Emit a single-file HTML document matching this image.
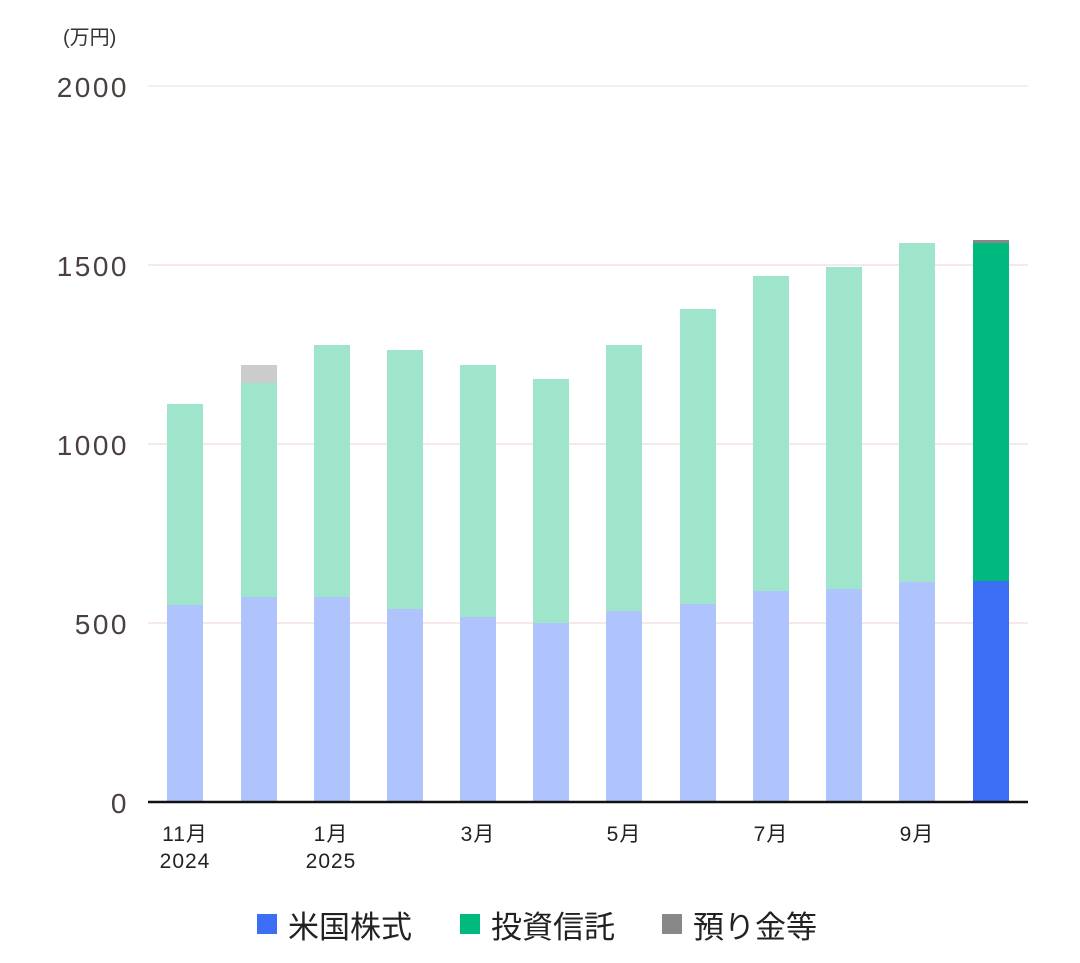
<!DOCTYPE html>
<html><head><meta charset="utf-8"><style>
html,body{margin:0;padding:0;background:#fff;}
svg{display:block;font-family:"Liberation Sans","Noto Sans CJK JP",sans-serif;}
</style></head><body>
<svg width="1080" height="963" viewBox="0 0 1080 963">
<text x="63" y="44" font-size="20" fill="#333">(万円)</text>
<g stroke="#f0e0e2" stroke-width="1.5">
<line x1="148" x2="1028" y1="86" y2="86" stroke="#ececec"/>
<line x1="148" x2="1028" y1="265" y2="265"/>
<line x1="148" x2="1028" y1="444" y2="444"/>
<line x1="148" x2="1028" y1="623" y2="623"/>
</g>
<g font-size="28" fill="#4a4040" text-anchor="end" letter-spacing="2.5">
<text x="129" y="97">2000</text>
<text x="129" y="276">1500</text>
<text x="129" y="455">1000</text>
<text x="129" y="634">500</text>
<text x="129" y="813">0</text>
</g>
<g>
<rect x="167" y="404" width="36" height="201" fill="#9ee5cb"/><rect x="167" y="605" width="36" height="197" fill="#afc4fc"/>
<rect x="241" y="365" width="36" height="18" fill="#cccccc"/><rect x="241" y="383" width="36" height="214" fill="#9ee5cb"/><rect x="241" y="597" width="36" height="205" fill="#afc4fc"/>
<rect x="314" y="345" width="36" height="252" fill="#9ee5cb"/><rect x="314" y="597" width="36" height="205" fill="#afc4fc"/>
<rect x="387" y="350" width="36" height="259" fill="#9ee5cb"/><rect x="387" y="609" width="36" height="193" fill="#afc4fc"/>
<rect x="460" y="365" width="36" height="252" fill="#9ee5cb"/><rect x="460" y="617" width="36" height="185" fill="#afc4fc"/>
<rect x="533" y="379" width="36" height="244" fill="#9ee5cb"/><rect x="533" y="623" width="36" height="179" fill="#afc4fc"/>
<rect x="606" y="345" width="36" height="266" fill="#9ee5cb"/><rect x="606" y="611" width="36" height="191" fill="#afc4fc"/>
<rect x="680" y="309" width="36" height="295" fill="#9ee5cb"/><rect x="680" y="604" width="36" height="198" fill="#afc4fc"/>
<rect x="753" y="276" width="36" height="315" fill="#9ee5cb"/><rect x="753" y="591" width="36" height="211" fill="#afc4fc"/>
<rect x="826" y="267" width="36" height="322" fill="#9ee5cb"/><rect x="826" y="589" width="36" height="213" fill="#afc4fc"/>
<rect x="899" y="243" width="36" height="339" fill="#9ee5cb"/><rect x="899" y="582" width="36" height="220" fill="#afc4fc"/>
<rect x="973" y="240" width="36" height="3" fill="#888"/><rect x="973" y="243" width="36" height="338" fill="#00b97f"/><rect x="973" y="581" width="36" height="221" fill="#3b6ef5"/>
</g>
<line x1="148" x2="1028" y1="802" y2="802" stroke="#111" stroke-width="2.5"/>
<g font-size="21" fill="#222" text-anchor="middle" letter-spacing="1">
<text x="185" y="841">11月</text><text x="185" y="868">2024</text>
<text x="331" y="841">1月</text><text x="331" y="868">2025</text>
<text x="478" y="841">3月</text>
<text x="624" y="841">5月</text>
<text x="771" y="841">7月</text>
<text x="917" y="841">9月</text>
</g>
<g font-size="31" fill="#222">
<rect x="257" y="914" width="20" height="20" fill="#3b6ef5"/><text x="288" y="938">米国株式</text>
<rect x="460" y="914" width="20" height="20" fill="#00b97f"/><text x="491" y="938">投資信託</text>
<rect x="662" y="914" width="20" height="20" fill="#888"/><text x="693" y="938">預り金等</text>
</g>
</svg>
</body></html>
